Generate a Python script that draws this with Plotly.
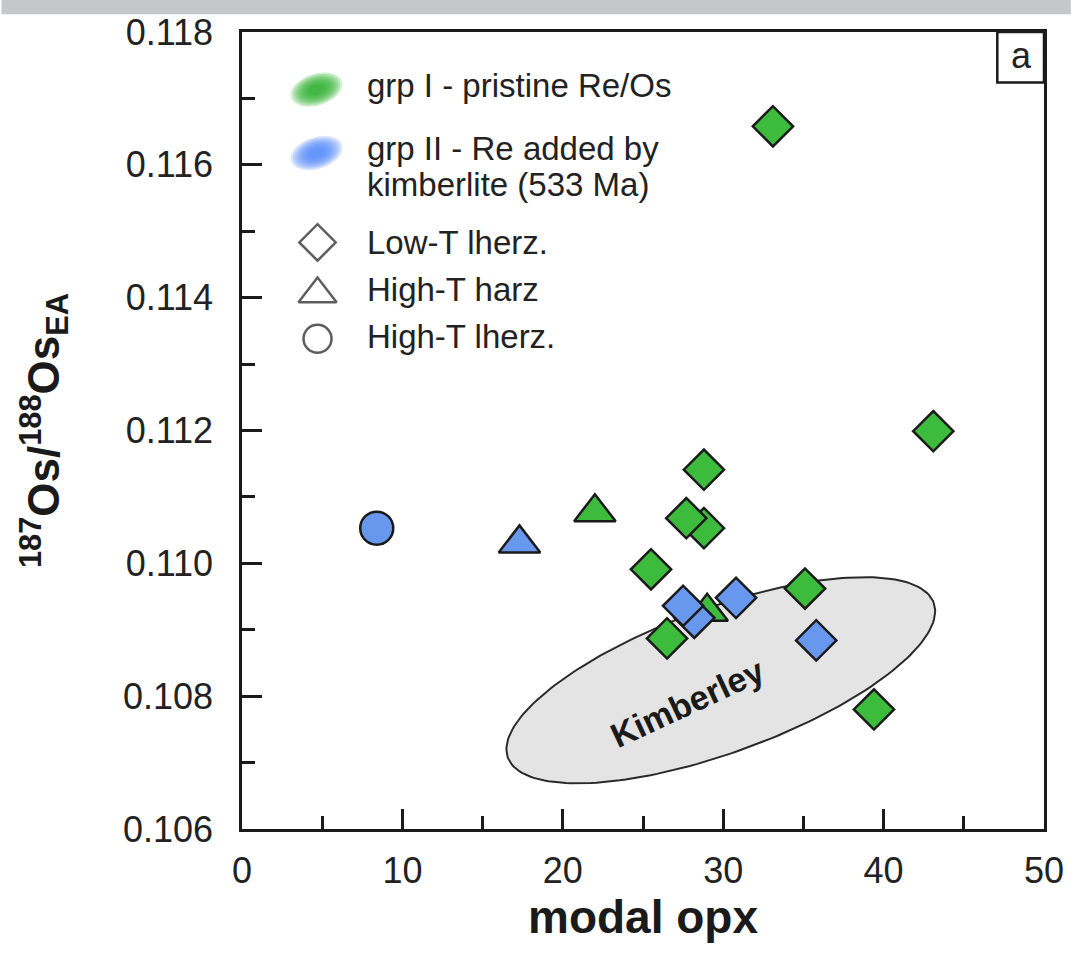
import numpy as np
import plotly.graph_objects as go

# ---------------- data ----------------
grp1_diamond_x = [33.1, 43.1, 28.8, 28.8, 27.7, 25.5, 35.1, 26.5, 39.4]
grp1_diamond_y = [0.11658, 0.11199, 0.11141, 0.11053, 0.11068, 0.10991, 0.10962, 0.10887, 0.10780]
grp1_triangle_x = [22.0, 29.0]
grp1_triangle_y = [0.11077, 0.10927]
grp2_diamond_x = [28.2, 27.5, 30.8, 35.8]
grp2_diamond_y = [0.10918, 0.10936, 0.10948, 0.10884]
grp2_triangle_x = [17.3]
grp2_triangle_y = [0.11030]
grp2_circle_x = [8.4]
grp2_circle_y = [0.11053]

x_range = [0, 50]
y_range = [0.106, 0.118]
x_ticks = [0, 10, 20, 30, 40, 50]
y_ticks = [0.106, 0.108, 0.110, 0.112, 0.114, 0.116, 0.118]

# Kimberley field (centre in data units, axes in screen pixels, tilt in degrees)
kimb_center = (29.85, 0.10824)
kimb_axes_px = (228, 73)
kimb_tilt_deg = 20

# ---------------- layout geometry ----------------
W, H = 1076, 953
ML, MR, MT, MB = 242, 27, 26, 124
PW, PH = W - ML - MR, H - MT - MB
PX_PER_X = PW / (x_range[1] - x_range[0])
PX_PER_Y = PH / (y_range[1] - y_range[0])

GREEN = "#3dbb3d"
BLUE = "#6898ee"
EDGE = "#1a1a1a"
FONT = "Liberation Sans, Arial, sans-serif"

fig = go.Figure()

# Kimberley field
t = np.linspace(0, 2 * np.pi, 200)
th = np.deg2rad(kimb_tilt_deg)
a, b = kimb_axes_px
dx_px = a * np.cos(t) * np.cos(th) + b * np.sin(t) * np.sin(th)
dy_px = -a * np.cos(t) * np.sin(th) + b * np.sin(t) * np.cos(th)  # screen y downward
ex = kimb_center[0] + dx_px / PX_PER_X
ey = kimb_center[1] - dy_px / PX_PER_Y
fig.add_trace(go.Scatter(x=ex, y=ey, mode="lines", fill="toself",
                         fillcolor="#e4e4e4", line=dict(color="#2a2a2a", width=2),
                         hoverinfo="skip", showlegend=False))

mk = lambda color, sym, size: dict(color=color, symbol=sym, size=size,
                                   line=dict(color=EDGE, width=2.5))

fig.add_trace(go.Scatter(x=grp1_diamond_x, y=grp1_diamond_y, mode="markers",
                         marker=mk(GREEN, "diamond", 31), name="grp I Low-T lherz."))
fig.add_trace(go.Scatter(x=grp1_triangle_x, y=grp1_triangle_y, mode="markers",
                         marker=mk(GREEN, "triangle-up", 36), name="grp I High-T harz"))
fig.add_trace(go.Scatter(x=grp2_diamond_x, y=grp2_diamond_y, mode="markers",
                         marker=mk(BLUE, "diamond", 31), name="grp II Low-T lherz."))
fig.add_trace(go.Scatter(x=grp2_triangle_x, y=grp2_triangle_y, mode="markers",
                         marker=mk(BLUE, "triangle-up", 36), name="grp II High-T harz"))
fig.add_trace(go.Scatter(x=grp2_circle_x, y=grp2_circle_y, mode="markers",
                         marker=mk(BLUE, "circle", 33), name="grp II High-T lherz."))

# ---------------- legend layer in screen pixels (overlay axes) ----------------
leg_sym_x = 318
leg_items = [("diamond", 238), ("triangle-up", 290), ("circle", 335)]
fig.add_trace(go.Scatter(x=[leg_sym_x] * 3, y=[yy for _, yy in leg_items],
                         mode="markers", xaxis="x2", yaxis="y2",
                         marker=dict(symbol=[s for s, _ in leg_items], size=[28, 33, 28],
                                     color="white", line=dict(color=EDGE, width=2.5)),
                         hoverinfo="skip", showlegend=False))

shapes = []


def blob(cx, cy, rx, ry, ang, color):
    tt = np.linspace(0, 2 * np.pi, 60)
    ca, sa = np.cos(np.deg2rad(ang)), np.sin(np.deg2rad(ang))
    out = []
    for s in np.linspace(1.0, 0.3, 9):
        px = cx + s * (rx * np.cos(tt) * ca - ry * np.sin(tt) * sa)
        py = cy + s * (rx * np.cos(tt) * sa + ry * np.sin(tt) * ca)
        path = "M " + " L ".join(f"{u:.1f},{v:.1f}" for u, v in zip(px, py)) + " Z"
        out.append(dict(type="path", path=path, xref="x2", yref="y2",
                        fillcolor=color, opacity=0.2, line=dict(width=0), layer="above"))
    return out


shapes += blob(317, 84, 27, 16, -18, "rgb(40,175,40)")
shapes += blob(317, 148, 27, 16, -18, "rgb(80,135,250)")

# panel label box
shapes.append(dict(type="rect", xref="x2", yref="y2", x0=1002, x1=ML + PW, y0=MT, y1=77,
                   line=dict(color=EDGE, width=2.5), fillcolor="white", layer="above"))
# grey band at top of page
shapes.append(dict(type="rect", xref="paper", yref="paper",
                   x0=-ML / PW, x1=1 + MR / PW, y0=1 + (MT - 8) / PH, y1=1 + (MT + 20) / PH,
                   line=dict(width=0), fillcolor="#c6c7c9"))

annotations = []
leg_texts = [("grp I - pristine Re/Os", 80), ("grp II - Re added by", 143),
             ("kimberlite (533 Ma)", 180), ("Low-T lherz.", 238),
             ("High-T harz", 285), ("High-T lherz.", 333)]
for txt, yy in leg_texts:
    annotations.append(dict(text=txt, x=366, y=yy, xref="x2", yref="y2", xanchor="left",
                            yanchor="middle", showarrow=False,
                            font=dict(family=FONT, size=33, color="#222")))
annotations.append(dict(text="a", x=1026, y=50, xref="x2", yref="y2", showarrow=False,
                        font=dict(family=FONT, size=36, color="#222")))
annotations.append(dict(text="<b>Kimberley</b>", x=690, y=702, xref="x2", yref="y2",
                        showarrow=False, textangle=-25,
                        font=dict(family=FONT, size=34, color="#1a1a1a")))

axis_common = dict(showline=True, linecolor=EDGE, linewidth=2.5, mirror=True,
                   ticks="inside", tickcolor=EDGE, tickwidth=2.5, ticklen=20,
                   showgrid=False, zeroline=False,
                   tickfont=dict(family=FONT, size=36, color="#222"))

fig.update_layout(
    width=W, height=H,
    margin=dict(l=ML, r=MR, t=MT, b=MB, pad=0),
    paper_bgcolor="white", plot_bgcolor="white",
    showlegend=False,
    xaxis=dict(range=x_range, tickvals=x_ticks, ticklabelstandoff=8,
               minor=dict(dtick=5, tick0=0, ticks="inside", ticklen=13,
                          tickwidth=2.5, tickcolor=EDGE),
               title=dict(text="<b>modal opx</b>", standoff=0,
                          font=dict(family=FONT, size=46, color="#1a1a1a")),
               **axis_common),
    yaxis=dict(range=y_range, tickvals=y_ticks, tickformat=".3f", ticklabelstandoff=19,
               minor=dict(dtick=0.001, tick0=0.106, ticks="inside", ticklen=13,
                          tickwidth=2.5, tickcolor=EDGE),
               title=dict(text="<b><sup>187</sup>Os/<sup>188</sup>Os<sub>EA</sub></b>",
                          standoff=50, font=dict(family=FONT, size=44, color="#1a1a1a")),
               **axis_common),
    xaxis2=dict(range=[ML, ML + PW], overlaying="x", visible=False, fixedrange=True),
    yaxis2=dict(range=[MT + PH, MT], overlaying="y", visible=False, fixedrange=True),
    shapes=shapes,
    annotations=annotations,
)

fig.write_html("out.html")
